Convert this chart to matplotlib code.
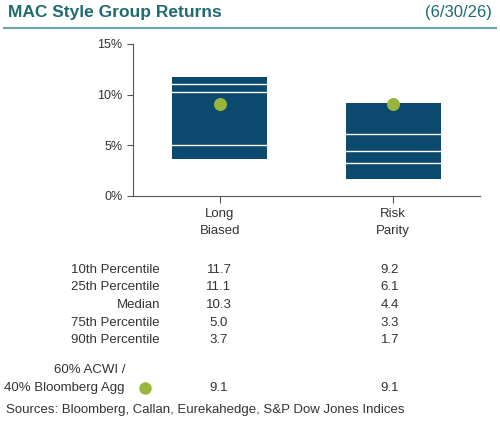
import matplotlib
matplotlib.use("Agg")
import matplotlib.pyplot as plt

categories = ["Long\nBiased", "Risk\nParity"]
p10 = [11.7, 9.2]
p25 = [11.1, 6.1]
median = [10.3, 4.4]
p75 = [5.0, 3.3]
p90 = [3.7, 1.7]
bench = [9.1, 9.1]
row_labels = ["10th Percentile", "25th Percentile", "Median", "75th Percentile", "90th Percentile"]

plt.rcParams['font.family'] = ['Liberation Sans', 'DejaVu Sans']
navy = "#0B4A6E"
green = "#9AB53C"
teal = "#1F6B70"
grey = "#333333"

fig = plt.figure(figsize=(5.0, 4.22), dpi=100)
W, H = 500, 422
fig.text(8/W, 1-13/H, "MAC Style Group Returns", fontsize=12.5, fontweight="bold", color=teal, va="center")
fig.text(492/W, 1-13/H, "(6/30/26)", fontsize=12, color=teal, va="center", ha="right")
fig.add_artist(plt.Line2D([4/W, 496/W], [1-28/H, 1-28/H], color="#6FA5A8", lw=1.5))

ax = fig.add_axes([133/W, 1-196/H, 347/W, 152/H])
x = [0, 1]
for i in x:
    ax.bar(i, p10[i]-p90[i], bottom=p90[i], width=0.55, color=navy)
    for v in (p25[i], median[i], p75[i]):
        ax.plot([i-0.275, i+0.275], [v, v], color="white", lw=1)
ax.scatter(x, bench, s=70, color=green, zorder=5)
ax.set_xlim(-0.5, 1.5)
ax.set_ylim(0, 15)
ax.set_yticks([0, 5, 10, 15])
ax.set_yticklabels(["0%", "5%", "10%", "15%"], fontsize=9, color=grey)
ax.set_xticks(x)
ax.set_xticklabels(categories, fontsize=9.5, color=grey, linespacing=1.6)
for s in ("top", "right"):
    ax.spines[s].set_visible(False)
for s in ("left", "bottom"):
    ax.spines[s].set_color("#555555")
ax.tick_params(axis="y", length=4, color="#555555")
ax.tick_params(axis="x", length=5, color="#555555")

cx = [219, 390]
for r, lab in enumerate(row_labels):
    y = 1 - (270 + r*17.5)/H
    fig.text(160/W, y, lab, fontsize=9.5, color=grey, ha="right", va="center")
    vals = [p10, p25, median, p75, p90][r]
    for j in range(2):
        fig.text(cx[j]/W, y, f"{vals[j]:.1f}", fontsize=9.5, color=grey, ha="center", va="center")
fig.text(125/W, 1-370/H, "60% ACWI /", fontsize=9.5, color=grey, ha="right", va="center")
fig.text(125/W, 1-388/H, "40% Bloomberg Agg", fontsize=9.5, color=grey, ha="right", va="center")
fig.add_artist(plt.Line2D([145/W], [1-388/H], marker="o", markersize=8, color=green, ls=""))
for j in range(2):
    fig.text(cx[j]/W, 1-388/H, f"{bench[j]:.1f}", fontsize=9.5, color=grey, ha="center", va="center")
fig.text(6/W, 1-410/H, "Sources: Bloomberg, Callan, Eurekahedge, S&P Dow Jones Indices", fontsize=9.5, color=grey, va="center")

fig.savefig("out.png", dpi=100)
